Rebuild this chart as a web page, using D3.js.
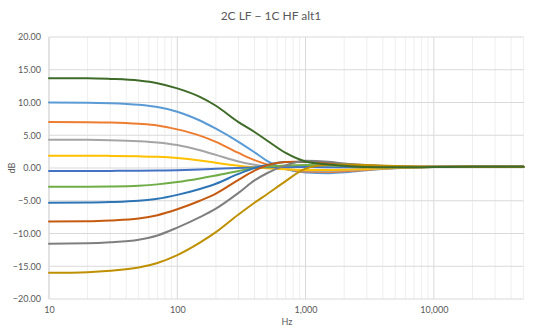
<!DOCTYPE html>
<html><head><meta charset="utf-8">
<script src="https://cdn.jsdelivr.net/npm/d3@7"></script>
<style>body{margin:0;background:#fff}svg{display:block}text{font-family:Lato,"Open Sans",sans-serif;fill:#595959}</style>
</head><body>
<svg id="c" width="540" height="334"></svg>
<script>
const freqs = [10,20,30,50,70,100,150,200,300,400,500,700,1000,1500,2000,3000,5000,10000,20000,50000];
const s01 = [10.0,9.98,9.9,9.65,9.3,8.6,7.25,6.0,4.0,2.4,1.1,-0.15,-0.7,-0.8,-0.65,-0.35,-0.05,0.15,0.2,0.2];
const s02 = [7.02,7.0,6.95,6.75,6.5,5.9,4.95,4.0,2.3,1.2,0.55,-0.15,-0.55,-0.6,-0.5,-0.3,0.0,0.15,0.2,0.2];
const s03 = [4.32,4.3,4.25,4.1,3.9,3.5,2.7,2.0,1.0,0.5,0.2,-0.15,-0.4,-0.45,-0.35,-0.2,0.0,0.15,0.2,0.2];
const s04 = [1.88,1.88,1.85,1.78,1.7,1.52,1.15,0.8,0.35,0.1,-0.05,-0.2,-0.3,-0.3,-0.25,-0.15,0.0,0.15,0.2,0.2];
const s05 = [-0.45,-0.45,-0.44,-0.42,-0.38,-0.33,-0.22,-0.12,0.0,0.08,0.12,0.15,0.15,0.12,0.1,0.1,0.12,0.15,0.2,0.2];
const s06 = [-2.85,-2.85,-2.82,-2.7,-2.5,-2.15,-1.6,-1.15,-0.45,0.0,0.2,0.4,0.45,0.4,0.3,0.2,0.15,0.18,0.2,0.2];
const s07 = [-5.3,-5.28,-5.2,-5.0,-4.7,-4.1,-3.2,-2.4,-0.9,0.0,0.45,0.9,0.9,0.6,0.4,0.25,0.15,0.18,0.2,0.2];
const s08 = [-8.15,-8.12,-8.0,-7.7,-7.2,-6.3,-5.0,-3.9,-1.8,-0.4,0.4,0.9,1.0,0.75,0.55,0.35,0.2,0.2,0.2,0.2];
const s09 = [-11.55,-11.5,-11.35,-10.95,-10.3,-9.1,-7.5,-6.2,-3.8,-1.9,-0.8,0.4,1.1,0.95,0.7,0.45,0.25,0.2,0.2,0.2];
const s10 = [-16.0,-15.9,-15.7,-15.2,-14.5,-13.3,-11.4,-9.8,-7.1,-5.3,-4.0,-2.0,-0.1,0.5,0.55,0.45,0.3,0.2,0.2,0.2];
const s11 = [13.7,13.7,13.6,13.35,12.95,12.15,10.85,9.5,7.0,5.5,4.2,2.3,1.0,0.55,0.35,0.15,0.1,0.15,0.2,0.2];
const seriesValues = [s01,s02,s03,s04,s05,s06,s07,s08,s09,s10,s11];
const seriesColors = ["#5B9BD5","#ED7D31","#A5A5A5","#FFC000","#4472C4","#70AD47","#2E75B6","#C55A11","#7F7F7F","#BF9000","#3F6B28"];
const yTicks = [-20,-15,-10,-5,0,5,10,15,20];
const xTicks = [10,100,1000,10000];
const title = "2C LF \u2212 1C HF alt1";
const xTitle = "Hz", yTitle = "dB";

const svg = d3.select("#c");
const L = 49, R = 523.5, T = 37, B = 299;
const x = d3.scaleLog().domain([10,50000]).range([L,R]);
const y = d3.scaleLinear().domain([-20,20]).range([B,T]);

const minors = [];
for (let d = 10; d < 50000; d *= 10) for (let k = 2; k <= 9; k++) if (d*k <= 50000) minors.push(d*k);
svg.append("g").selectAll("line").data(minors).join("line")
  .attr("x1", d => x(d)).attr("x2", d => x(d)).attr("y1", T).attr("y2", B)
  .attr("stroke", "#efefef").attr("stroke-width", 1);
svg.append("g").selectAll("line").data(xTicks).join("line")
  .attr("x1", d => x(d)).attr("x2", d => x(d)).attr("y1", T).attr("y2", B)
  .attr("stroke", "#d9d9d9").attr("stroke-width", 1);
svg.append("g").selectAll("line").data(yTicks).join("line")
  .attr("x1", L).attr("x2", R).attr("y1", d => y(d)).attr("y2", d => y(d))
  .attr("stroke", "#d9d9d9").attr("stroke-width", 1);
svg.append("line").attr("x1", L).attr("x2", L).attr("y1", T).attr("y2", B).attr("stroke", "#d9d9d9");

const yAxis = d3.axisLeft(y).tickValues(yTicks).tickFormat(d3.format(".2f")).tickSize(0).tickPadding(8);
const gy = svg.append("g").attr("transform", `translate(${L},0)`).call(yAxis);
gy.select(".domain").remove();
gy.selectAll("text").style("font-size", "9px").attr("fill", "#595959");
const xAxis = d3.axisBottom(x).tickValues(xTicks).tickFormat(d3.format(",")).tickSize(0).tickPadding(8);
const gx = svg.append("g").attr("transform", `translate(0,${B})`).call(xAxis);
gx.select(".domain").remove();
gx.selectAll("text").style("font-size", "9px").attr("fill", "#595959");

const line = d3.line().x((d,i) => x(freqs[i])).y(d => y(d)).curve(d3.curveMonotoneX);
svg.append("g").selectAll("path").data(seriesValues).join("path")
  .attr("d", d => line(d)).attr("fill", "none")
  .attr("stroke", (d,i) => seriesColors[i]).attr("stroke-width", 2)
  .attr("stroke-linejoin", "round").attr("stroke-linecap", "round");

svg.append("text").attr("x", 271).attr("y", 20).attr("text-anchor", "middle").style("font-size", "12px").text(title);
svg.append("text").attr("x", 287).attr("y", 325).attr("text-anchor", "middle").style("font-size", "9px").text(xTitle);
svg.append("text").attr("transform", "translate(15,168) rotate(-90)").attr("text-anchor", "middle").style("font-size", "9px").text(yTitle);
</script>
</body></html>
